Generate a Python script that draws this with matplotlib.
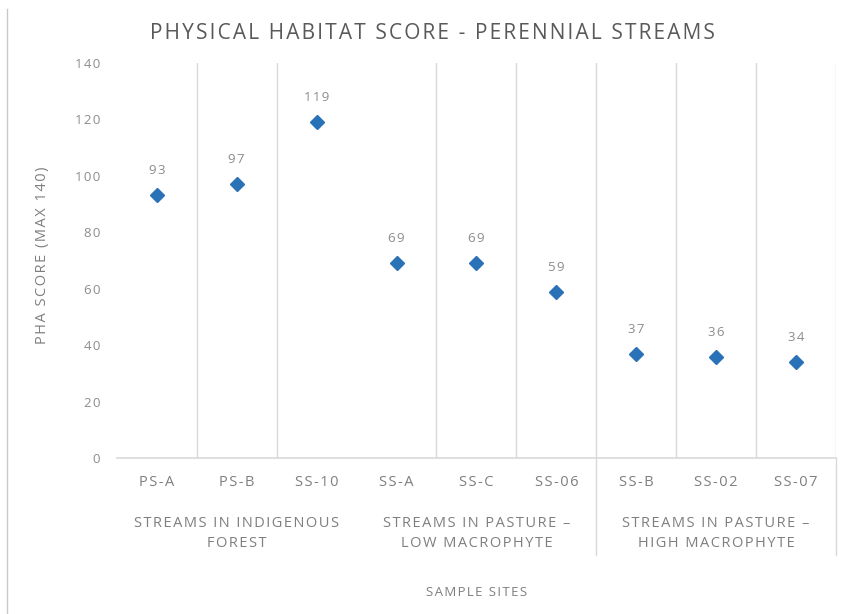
import matplotlib
matplotlib.use('Agg')
import matplotlib.pyplot as plt
from matplotlib.lines import Line2D

plt.rcParams['font.family'] = ['Open Sans', 'DejaVu Sans']

# data
sites = ['PS-A', 'PS-B', 'SS-10', 'SS-A', 'SS-C', 'SS-06', 'SS-B', 'SS-02', 'SS-07']
scores = [93, 97, 119, 69, 69, 59, 37, 36, 34]
groups = ['STREAMS IN INDIGENOUS\nFOREST',
          'STREAMS IN PASTURE \u2013\nLOW MACROPHYTE',
          'STREAMS IN PASTURE \u2013\nHIGH MACROPHYTE']
group_sizes = [3, 3, 3]
yticks = [0, 20, 40, 60, 80, 100, 120, 140]

txt = '#595959'
lbl = '#7f7f7f'
grid = '#d9d9d9'


def sp(s):
    # the reference renders its text with wide letter spacing
    return '\n'.join('\u200a'.join(line) for line in s.split('\n'))


fig = plt.figure(figsize=(8.46, 6.14), dpi=100)
ax = fig.add_axes([0.1383, 0.2533, 0.988 - 0.1383, 0.8982 - 0.2533])

x = list(range(len(sites)))
ax.plot(x, scores, linestyle='none', marker='D', markersize=7.5,
        color='#2a72b8', zorder=3)
for xi, v in zip(x, scores):
    ax.annotate(sp(str(v)), (xi, v), xytext=(0, 13), textcoords='offset points',
                ha='center', va='bottom', fontsize=9.5, color='#8c8c8c')

ax.set_xlim(-0.5, len(sites) - 0.5)
ax.set_ylim(0, 140)
ax.set_yticks(yticks)
ax.set_yticklabels([sp(str(t)) for t in yticks], fontsize=9.5, color='#8c8c8c')
ax.tick_params(axis='y', length=0, pad=12)
ax.set_xticks(x)
ax.set_xticklabels([sp(s) for s in sites], fontsize=10.5, color=lbl)
ax.tick_params(axis='x', length=0, pad=12)

for s in ['top', 'right', 'left']:
    ax.spines[s].set_visible(False)
ax.spines['bottom'].set_color(grid)
ax.spines['bottom'].set_linewidth(1.2)

# vertical separators between categories (the SS-10/SS-A one is not drawn in the reference)
for b in [0.5, 1.5, 3.5, 4.5, 5.5, 6.5, 7.5, 8.5]:
    ax.axvline(b, color=grid, linewidth=1.0, zorder=1)

# group labels and separators below axis
tr = ax.get_xaxis_transform()
start = 0
for g, n in zip(groups, group_sizes):
    c = start + (n - 1) / 2
    ax.text(c, -0.19, sp(g), transform=tr, ha='center', va='center',
            fontsize=10.5, color=lbl, linespacing=1.45)
    start += n
for b in [5.5, 8.5]:
    ax.add_line(Line2D([b, b], [0, -0.245], transform=tr,
                       color=grid, linewidth=1.0, clip_on=False))

ax.text(0.5, -0.338, sp('SAMPLE SITES'), transform=ax.transAxes, ha='center', va='center',
        fontsize=9.5, color=lbl)
fig.text(0.05, 0.585, sp('PHA SCORE (MAX 140)'), rotation=90, ha='center', va='center',
         fontsize=10.5, color=lbl)

fig.text(0.511, 0.946, sp('PHYSICAL HABITAT SCORE - PERENNIAL STREAMS'), ha='center',
         va='center', fontsize=15, color=txt)

# chart border at left
fig.add_artist(Line2D([0.0083, 0.0083], [0, 0.985], transform=fig.transFigure,
                      color='#c8c8c8', linewidth=1.0))

fig.savefig('out.png', dpi=100)
